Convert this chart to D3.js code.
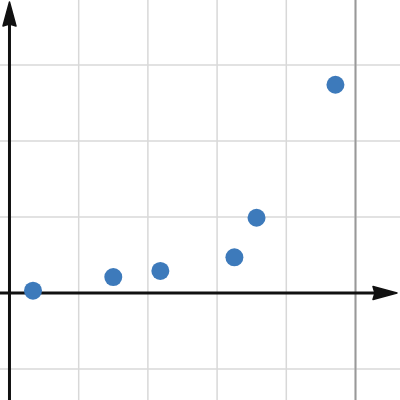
<!DOCTYPE html>
<html>
<head>
<meta charset="utf-8">
<script src="https://cdn.jsdelivr.net/npm/d3@7"></script>
<style>
  body { margin: 0; background: #fff; }
  svg { display: block; }
</style>
</head>
<body>
<div id="chart"></div>
<script>
// points, grid units
var xs = [0.34, 1.50, 2.18, 3.25, 3.57, 4.71];
var ys = [0.03, 0.21, 0.29, 0.47, 0.99, 2.74];
var xTicks = [1, 2, 3, 4, 5];
var yTicks = [-1, 1, 2, 3];
var markX = 5; // darker vertical line

var width = 400, height = 400;

var x = d3.scaleLinear().domain([-0.137, 5.643]).range([0, width]);
var y = d3.scaleLinear().domain([3.855, -1.408]).range([0, height]);

var svg = d3.select('#chart').append('svg')
  .attr('width', width)
  .attr('height', height);

// grid
svg.append('g').selectAll('line')
  .data(xTicks).enter().append('line')
  .attr('x1', d => x(d)).attr('x2', d => x(d))
  .attr('y1', 0).attr('y2', height)
  .attr('stroke', '#d8d8d8')
  .attr('stroke-width', 1.5);

svg.append('g').selectAll('line')
  .data(yTicks).enter().append('line')
  .attr('x1', 0).attr('x2', width)
  .attr('y1', d => y(d)).attr('y2', d => y(d))
  .attr('stroke', '#d8d8d8')
  .attr('stroke-width', 1.5);

// darker line on top of horizontals
svg.append('line')
  .attr('x1', x(markX)).attr('x2', x(markX))
  .attr('y1', 0).attr('y2', height)
  .attr('stroke', '#999').attr('stroke-width', 2);

// axes
var x0 = x(0), y0 = y(0);
svg.append('line')
  .attr('x1', 0).attr('x2', width - 20)
  .attr('y1', y0).attr('y2', y0)
  .attr('stroke', '#111').attr('stroke-width', 3);
svg.append('line')
  .attr('x1', x0).attr('x2', x0)
  .attr('y1', height).attr('y2', 20)
  .attr('stroke', '#111').attr('stroke-width', 3);

// arrowheads
svg.append('path')
  .attr('d', 'M' + (width - 3) + ',' + y0 +
    ' L' + (width - 27) + ',' + (y0 - 6.5) +
    ' L' + (width - 25) + ',' + y0 +
    ' L' + (width - 27) + ',' + (y0 + 6.5) + 'Z')
  .attr('fill', '#111')
  .attr('stroke', '#111').attr('stroke-width', 1.5)
  .attr('stroke-linejoin', 'round');
svg.append('path')
  .attr('d', 'M' + x0 + ',2' +
    ' L' + (x0 - 6.5) + ',26' +
    ' L' + x0 + ',24' +
    ' L' + (x0 + 6.5) + ',26Z')
  .attr('fill', '#111')
  .attr('stroke', '#111').attr('stroke-width', 1.5)
  .attr('stroke-linejoin', 'round');

// points
svg.append('g').selectAll('circle')
  .data(xs).enter().append('circle')
  .attr('cx', d => x(d))
  .attr('cy', (d, i) => y(ys[i]))
  .attr('r', 9)
  .attr('fill', '#3d7abb');
</script>
</body>
</html>
